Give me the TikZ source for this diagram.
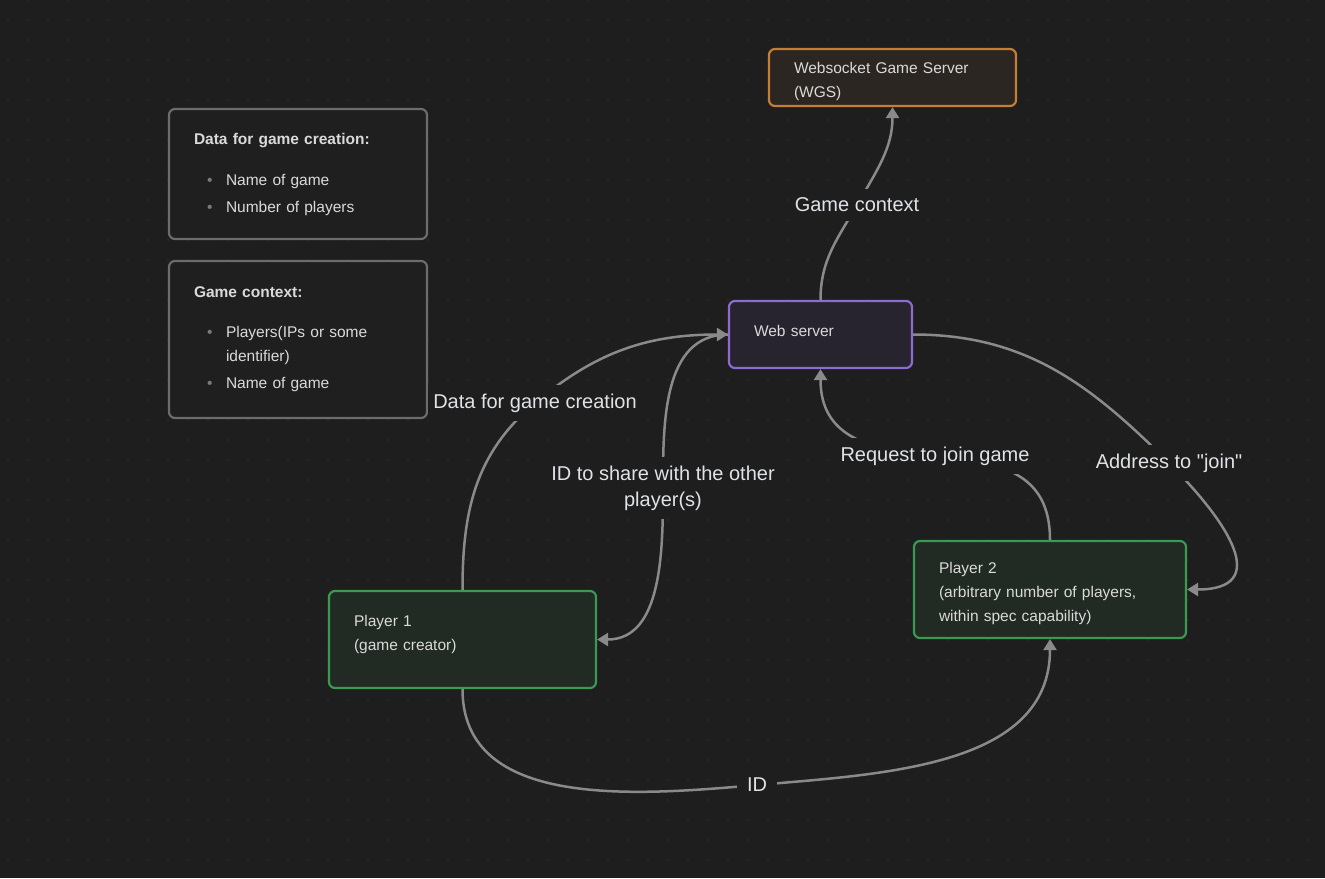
\documentclass[tikz,border=0pt]{standalone}
\usepackage{fontspec}
\setmainfont{Liberation Sans}
\usetikzlibrary{arrows.meta}

\definecolor{canvasbg}{HTML}{1E1E1E}
\definecolor{dotc}{HTML}{303030}
\definecolor{linkc}{HTML}{8A8A8A}
\definecolor{nodetxt}{HTML}{DADADA}
\definecolor{lbltxt}{HTML}{DFE2E6}
\definecolor{bulc}{HTML}{7A7A7A}
\definecolor{wgsb}{HTML}{C47F34}
\definecolor{wgsf}{HTML}{2B2621}
\definecolor{webb}{HTML}{8B6CD0}
\definecolor{webf}{HTML}{27232F}
\definecolor{playerb}{HTML}{3A9A52}
\definecolor{playerf}{HTML}{212A23}
\definecolor{infob}{HTML}{6C6C6C}
\definecolor{infof}{HTML}{1F1F1F}

\newcommand{\litem}[1]{\hspace*{13pt}\makebox[19pt][l]{\textcolor{bulc}{\textbullet}}#1}

\begin{document}
\begin{tikzpicture}[x=1pt, y=1pt,
    box/.style={rounded corners=6pt, line width=2.2pt, text=nodetxt, align=left,
      inner xsep=25pt, inner ysep=0pt, font=\fontsize{15.5}{24}\selectfont},
    infobox/.style={box, draw=infob, fill=infof, minimum width=258pt, text width=208pt},
    link/.style={draw=linkc, line width=2.5pt, -{Triangle[length=11pt,width=13pt]}},
    lbl/.style={fill=canvasbg, text=lbltxt, font=\fontsize{20}{26}\selectfont,
      inner xsep=5pt, inner ysep=9pt, align=center}]

\useasboundingbox (0,0) rectangle (1325,-878);
\fill[canvasbg] (0,0) rectangle (1325,-878);
\foreach \i in {0,...,65}
  \foreach \j in {0,...,43}
    \fill[dotc] (8+20*\i,-20*\j) circle (0.9);

\node[infobox, minimum height=130pt] (gamedata) at (298,-174) {%
  \textbf{Data for game creation:}\\[17pt]
  \litem{Name of game}\\[3pt]
  \litem{Number of players}};
\node[infobox, minimum height=157pt] (gamectx) at (298,-339.5) {%
  \textbf{Game context:}\\[16pt]
  \litem{Players(IPs or some}\\
  \hspace*{32pt}identifier)\\[3pt]
  \litem{Name of game}};

\node[box, draw=wgsb, fill=wgsf, minimum width=247pt, minimum height=57pt, text width=197pt,
  text height=19pt] (wgs) at (892.5,-77.5) {Websocket Game Server\\(WGS)};
\node[box, draw=webb, fill=webf, minimum width=183pt, minimum height=67pt, text width=133pt,
  text depth=8pt] (web) at (820.5,-334.5) {Web server};
\node[box, draw=playerb, fill=playerf, minimum width=267pt, minimum height=97pt, text width=217pt,
  text depth=37pt] (player1) at (462.5,-639.5) {Player 1\\(game creator)};
\node[box, draw=playerb, fill=playerf, minimum width=272pt, minimum height=97pt, text width=222pt,
  text height=19pt] (player2) at (1050,-589.5) {Player 2\\(arbitrary number of players,\\within spec capability)};

\coordinate (c1) at (535,-403);
\coordinate (c2) at (663,-488);
\coordinate (c3) at (857,-205);
\coordinate (c4) at (935,-456);
\coordinate (c5) at (1169,-463);
\coordinate (c6) at (757,-785);

\draw[link] (player1.north) to[out=90,in=-140] (c1) to[out=40,in=180] (web.west);
\draw[link] (web.west) to[out=180,in=90] (c2) to[out=-90,in=0] (player1.east);
\draw[link] (web.north) to[out=90,in=-120] (c3) to[out=60,in=-90] (wgs.south);
\draw[link] (player2.north) to[out=90,in=-5,looseness=1.2] (c4) to[out=175,in=-90,looseness=1.2] (web.south);
\draw[link] (web.east) to[out=0,in=135] (c5) to[out=-45,in=0,looseness=1.7] (player2.east);
\draw[link] (player1.south) to[out=-90,in=185] (c6) to[out=5,in=-90] (player2.south);

\node[lbl] (l1) at (c1) {Data for game creation};
\node[lbl] (l2) at (c2) {ID to share with the other\\player(s)};
\node[lbl] (l3) at (c3) {Game context};
\node[lbl] (l4) at (c4) {Request to join game};
\node[lbl] (l5) at (c5) {Address to \textquotedbl join\textquotedbl};
\node[lbl, inner xsep=10pt] (l6) at (c6) {ID};
\end{tikzpicture}
\end{document}
